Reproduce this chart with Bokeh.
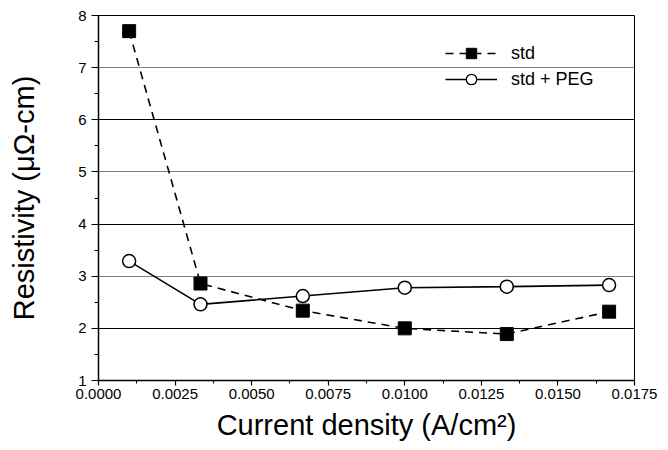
from bokeh.plotting import figure
from bokeh.models import (Range1d, SingleIntervalTicker, FixedTicker, PrintfTickFormatter,
                          Legend, LegendItem, Grid)
from bokeh.embed import file_html
from bokeh.resources import INLINE

# Data
current_density = [0.001, 0.00333, 0.00667, 0.0100, 0.01333, 0.01667]
std = [7.70, 2.86, 2.34, 2.00, 1.89, 2.32]
std_peg = [3.29, 2.46, 2.62, 2.78, 2.80, 2.83]

FONT = "Liberation Sans"
NAN = float("nan")

p = figure(width=660, height=450,
           x_range=Range1d(0, 0.0175), y_range=Range1d(1, 8),
           output_backend="svg", toolbar_location=None,
           min_border_left=98, min_border_right=26,
           min_border_top=15, min_border_bottom=70)

p.background_fill_color = "white"
p.border_fill_color = "white"
p.outline_line_color = "black"
p.outline_line_width = 1

p.xaxis.ticker = SingleIntervalTicker(interval=0.0025, num_minor_ticks=2)
p.yaxis.ticker = SingleIntervalTicker(interval=1, num_minor_ticks=2)
p.xaxis.formatter = PrintfTickFormatter(format="%.4f")

for ax in (p.xaxis[0], p.yaxis[0]):
    ax.axis_line_color = "black"
    ax.axis_line_width = 1.5
    ax.major_tick_line_color = "black"
    ax.minor_tick_line_color = "black"
    ax.major_tick_line_width = 1.2
    ax.major_tick_in = 0
    ax.minor_tick_in = 0
    ax.major_label_text_font = FONT
    ax.major_label_text_font_size = "15px"
    ax.major_label_text_color = "black"
    ax.axis_label_text_font = FONT
    ax.axis_label_text_font_size = "29px"
    ax.axis_label_text_font_style = "normal"
    ax.axis_label_text_color = "black"

p.xaxis.major_tick_out = 5
p.xaxis.minor_tick_out = 3
p.yaxis.major_tick_out = 7
p.yaxis.minor_tick_out = 4

p.xaxis.axis_label = "Current density (A/cm\u00b2)"
p.yaxis.axis_label = "Resistivity (\u03bc\u03a9-cm)"
p.xaxis.major_label_standoff = 3
p.yaxis.major_label_standoff = 5
p.xaxis.axis_label_standoff = 7
p.yaxis.axis_label_standoff = 35

p.xgrid.visible = False
p.ygrid.ticker = FixedTicker(ticks=[2, 4, 6])
p.ygrid.grid_line_color = "black"
p.ygrid.grid_line_width = 1
odd_grid = Grid(dimension=1, ticker=FixedTicker(ticks=[3, 5, 7]),
                grid_line_color="#808080", grid_line_width=1)
p.add_layout(odd_grid)

l_peg = p.line(current_density, std_peg, line_color="black", line_width=1.6)
s_peg = p.scatter(current_density, std_peg, marker="circle", size=13,
                  fill_color="white", line_color="black", line_width=1.5)
l_std = p.line(current_density, std, line_color="black", line_width=1.6, line_dash="8 6")
s_std = p.scatter(current_density, std, marker="square", size=13,
                  fill_color="black", line_color="black")

# legend-only proxies (NaN position, never drawn in the plot) with smaller legend markers
lg_std = p.scatter([NAN], [NAN], marker="square", size=10, fill_color="black", line_color="black")
lg_peg = p.scatter([NAN], [NAN], marker="circle", size=10, fill_color="white",
                   line_color="black", line_width=1.3)

legend = Legend(items=[LegendItem(label="std", renderers=[l_std, lg_std]),
                       LegendItem(label="std + PEG", renderers=[l_peg, lg_peg])],
                location=(347, 288), border_line_color=None,
                background_fill_alpha=0, padding=0, margin=0, spacing=0,
                glyph_width=52, glyph_height=26, label_height=26,
                label_standoff=14, label_text_font=FONT,
                label_text_font_size="18px", label_text_color="black")
p.add_layout(legend)

open("out.html", "w").write(file_html(p, INLINE))
